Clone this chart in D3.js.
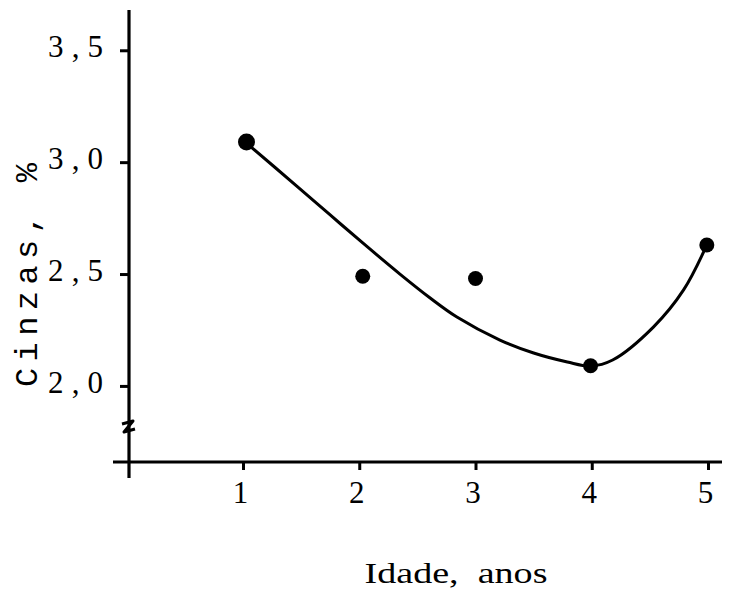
<!DOCTYPE html>
<html>
<head>
<meta charset="utf-8">
<script src="https://cdn.jsdelivr.net/npm/d3@7"></script>
<style>
  html, body { margin: 0; padding: 0; background: #fff; }
  svg { display: block; }
  .pre { white-space: pre; }
</style>
</head>
<body>
<svg id="chart" width="737" height="593"></svg>
<script>
// ---- data ----
const ages = [1.03, 2.03, 3.0, 3.99, 4.99];
const ash = [3.09, 2.49, 2.48, 2.09, 2.63];
// fitted (hand-drawn) curve
const curveAge = [1.03, 1.47, 1.75, 2.03, 2.35, 2.61, 2.84, 3.21, 3.5, 3.79, 3.99, 4.18, 4.53, 4.79, 4.99];
const curveAsh = [3.085, 2.89, 2.764, 2.639, 2.50, 2.393, 2.308, 2.205, 2.147, 2.107, 2.089, 2.116, 2.263, 2.429, 2.63];
const xTicks = [1, 2, 3, 4, 5];
const xTickLabels = ["1", "2", "3", "4", "5"];
const yTicks = [2.0, 2.5, 3.0, 3.5];
const yTickLabels = ["2,0", "2,5", "3,0", "3,5"];
const xTitle = "Idade,  anos";
const yTitle = "Cinzas, %";

// ---- scales ----
const svg = d3.select("#chart");
const x = d3.scaleLinear().domain([0, 5]).range([126.75, 708]);
const y = d3.scaleLinear().domain([1.66, 3.68]).range([462, 10]);

const axisX = 129, axisY = 462;
const serif = "'Liberation Serif', 'DejaVu Serif', serif";

// axis lines
svg.append("line")
  .attr("x1", axisX).attr("x2", axisX)
  .attr("y1", 10).attr("y2", 478)
  .attr("stroke", "#000").attr("stroke-width", 3.2);
svg.append("line")
  .attr("x1", 113).attr("x2", 722)
  .attr("y1", axisY).attr("y2", axisY)
  .attr("stroke", "#000").attr("stroke-width", 3);

// axis break mark
svg.append("path")
  .attr("d", `M${axisX-7},${424} L${axisX+4},${421} L${axisX-5},${432} L${axisX+6},${429}`)
  .attr("fill", "none").attr("stroke", "#000").attr("stroke-width", 3)
  .attr("stroke-linejoin", "round");

// y axis
const gy = svg.append("g").attr("transform", `translate(${axisX},0)`)
  .call(d3.axisLeft(y).tickValues(yTicks)
    .tickFormat((d, i) => yTickLabels[i]).tickSize(9).tickPadding(17));
gy.select(".domain").remove();
gy.selectAll(".tick line").attr("stroke", "#000").attr("stroke-width", 3);
gy.selectAll(".tick text")
  .attr("font-family", serif)
  .attr("font-size", 31).attr("fill", "#000")
  .attr("dy", "0.2em")
  .attr("textLength", 55).attr("lengthAdjust", "spacing");

// x axis
const gx = svg.append("g").attr("transform", `translate(0,${axisY})`)
  .call(d3.axisBottom(x).tickValues(xTicks)
    .tickFormat((d, i) => xTickLabels[i]).tickSize(8).tickPadding(11));
gx.select(".domain").remove();
gx.selectAll(".tick line").attr("stroke", "#000").attr("stroke-width", 3);
gx.selectAll(".tick text")
  .attr("font-family", serif)
  .attr("font-size", 31).attr("fill", "#000")
  .attr("dx", "-0.1em");

// curve
const curveData = curveAge.map((a, i) => [a, curveAsh[i]]);
svg.append("path")
  .datum(curveData)
  .attr("fill", "none").attr("stroke", "#000").attr("stroke-width", 3)
  .attr("d", d3.line().x(d => x(d[0])).y(d => y(d[1])).curve(d3.curveCatmullRom.alpha(0.5)));

// points
svg.selectAll("circle.pt")
  .data(ages.map((a, i) => [a, ash[i]]))
  .join("circle").attr("class", "pt")
  .attr("cx", d => x(d[0])).attr("cy", d => y(d[1]))
  .attr("r", (d, i) => i === 0 ? 8.5 : 7.5)
  .attr("fill", "#000");

// titles
svg.append("text")
  .attr("class", "pre")
  .attr("x", 456).attr("y", 583)
  .attr("text-anchor", "middle")
  .attr("font-family", serif)
  .attr("font-size", 30).attr("fill", "#000")
  .attr("textLength", 183).attr("lengthAdjust", "spacingAndGlyphs")
  .text(xTitle);

svg.append("text")
  .attr("transform", "translate(37,275) rotate(-90)")
  .attr("text-anchor", "middle")
  .attr("font-family", "'Liberation Mono', 'DejaVu Sans Mono', monospace")
  .attr("font-size", 32).attr("fill", "#000")
  .attr("textLength", 224).attr("lengthAdjust", "spacing")
  .text(yTitle);
</script>
</body>
</html>
